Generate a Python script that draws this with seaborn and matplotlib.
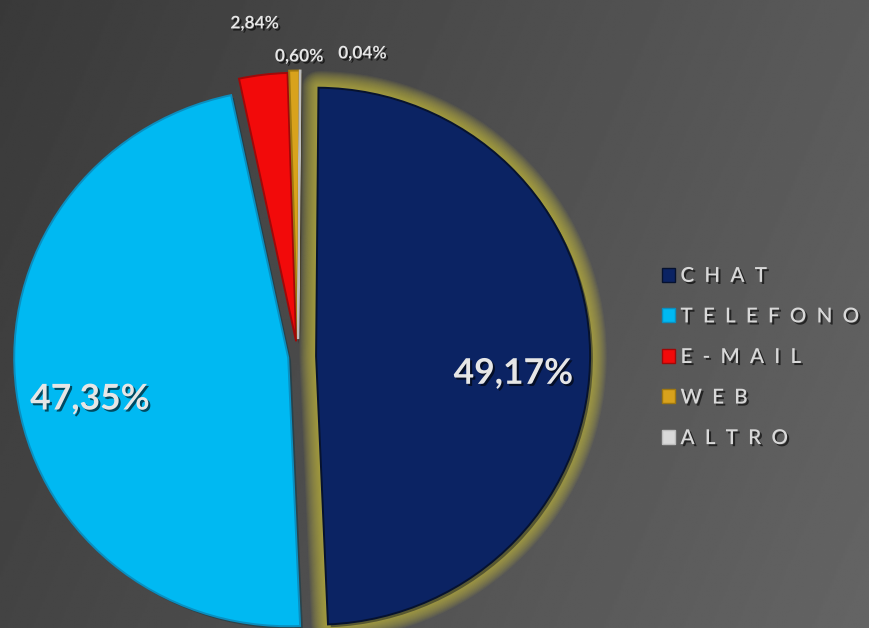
import numpy as np
import matplotlib
matplotlib.use("Agg")
import matplotlib.pyplot as plt
import matplotlib.patheffects as pe
from matplotlib.patches import Wedge, Rectangle
import seaborn as sns

# Contact channels and their share of requests (%)
categories = ["CHAT", "TELEFONO", "E-MAIL", "WEB", "ALTRO"]
shares = [49.17, 47.35, 2.84, 0.60, 0.04]
value_labels = ["49,17%", "47,35%", "2,84%", "0,60%", "0,04%"]

sns.set_theme(style="dark")
plt.rcParams["font.family"] = ["Lato", "DejaVu Sans"]

palette = sns.color_palette(["#0b2363", "#00b9f2", "#f20a0a", "#d8a21c", "#d9d9d9"])
rims = sns.color_palette(["#06122f", "#0a8fc0", "#a00808", "#a07810", "#bdbdbd"])

W, H = 870, 628
fig = plt.figure(figsize=(W / 100, H / 100), dpi=100)

# dark grey gradient backdrop
bg = fig.add_axes([0, 0, 1, 1], zorder=0)
gx, gy = np.meshgrid(np.linspace(0, 1, 400), np.linspace(0, 1, 400))
shade = 0.225 + 0.13 * gx + 0.04 * gy
bg.imshow(shade, cmap="gray", vmin=0, vmax=1, extent=[0, 1, 0, 1],
          aspect="auto", origin="upper", interpolation="bilinear")
bg.axis("off")

# pie axes: a slightly flattened ellipse whose bottom touches the lower edge
cx, cy, rx, ry = 298, 356.5, 274, 268.5
lim = 1.3
ax = fig.add_axes([(cx - lim * rx) / W, (H - cy - lim * ry) / H,
                   2 * lim * rx / W, 2 * lim * ry / H], zorder=1)
ax.patch.set_alpha(0)

explode = [0.066, 0.036, 0.057, 0.065, 0.065]
wedges, _ = ax.pie(shares, colors=palette, startangle=89.5, counterclock=False,
                   explode=explode,
                   wedgeprops=dict(linewidth=1.4, zorder=3))
for w, rc in zip(wedges, rims):
    w.set_edgecolor(rc)
    w.set_path_effects([pe.SimplePatchShadow(offset=(2, -2), alpha=0.45),
                        pe.Normal()])
ax.set_aspect("auto")
ax.set_xlim(-lim, lim)
ax.set_ylim(-lim, lim)
for s in ax.spines.values():
    s.set_visible(False)

# soft golden glow around the largest slice, built from stacked translucent strokes
chat = wedges[0]
for lw in np.arange(24, 1, -1.5):
    glow = Wedge(chat.center, chat.r, chat.theta1, chat.theta2,
                 facecolor="none", edgecolor="#c9bf3e", linewidth=lw,
                 alpha=0.075, zorder=2, joinstyle="round")
    ax.add_patch(glow)

# value labels
label_dist = [0.72, 0.73, 1.20, 1.06, 1.06]
label_nudge = [(0, -21), (0, -17), (-2, -2), (5, -2), (62, 1)]
label_size = [25.5, 25.5, 12.5, 12.5, 12.5]
shadow = [pe.withSimplePatchShadow(offset=(1.5, -1.5), shadow_rgbFace="black", alpha=0.6)]
for w, txt, d, nudge, fs in zip(wedges, value_labels, label_dist, label_nudge, label_size):
    ang = np.deg2rad((w.theta1 + w.theta2) / 2)
    x0, y0 = w.center
    ax.annotate(txt, (x0 + d * np.cos(ang), y0 + d * np.sin(ang)),
                xytext=nudge, textcoords="offset pixels", annotation_clip=False,
                ha="center", va="center", fontsize=fs, fontweight="bold",
                color="#e6e6e6", path_effects=shadow, zorder=5)

# legend with letter-spaced category names
handles = [Rectangle((0, 0), 1, 1, facecolor=c, edgecolor=r, linewidth=1)
           for c, r in zip(palette, rims)]
labels = ["  ".join(c) for c in categories]
leg = fig.legend(handles, labels, loc="center left",
                 bbox_to_anchor=(662 / W, 1 - 357 / H),
                 frameon=False, fontsize=14.8, borderpad=0, borderaxespad=0,
                 handlelength=0.65, handleheight=0.65, handletextpad=0.25,
                 labelspacing=1.0)
for t in leg.get_texts():
    t.set_color("#d8d8d8")
    t.set_fontweight("semibold")
    t.set_path_effects(shadow)

fig.savefig("out.png", dpi=100)
